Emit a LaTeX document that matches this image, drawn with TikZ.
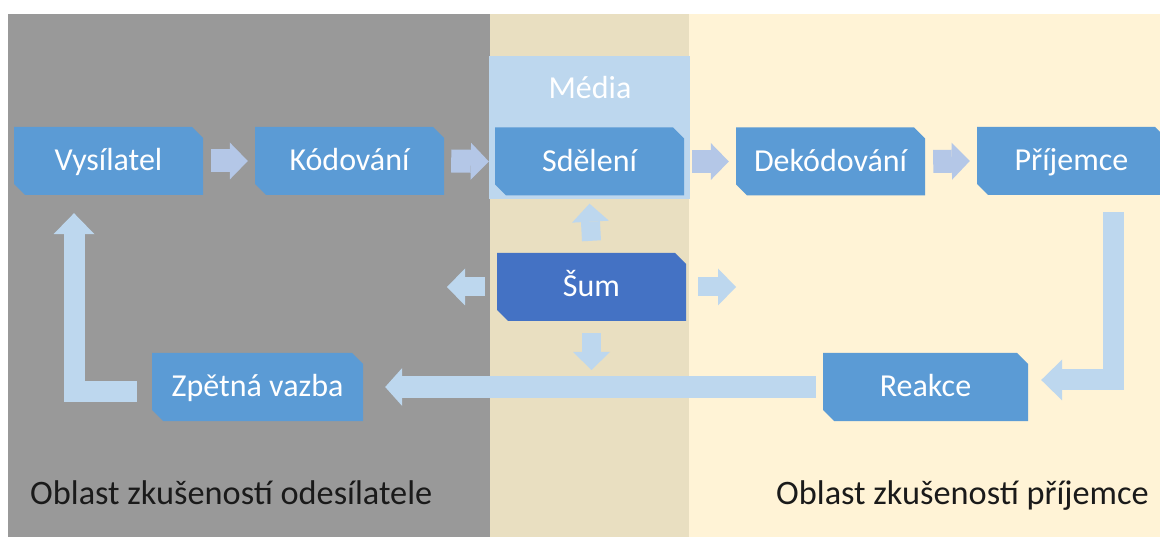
\documentclass[tikz,border=0pt]{standalone}
\usepackage{fontspec}
\setmainfont{Carlito}
\usetikzlibrary{arrows.meta}

\definecolor{greyzone}{HTML}{999999}
\definecolor{mediazone}{HTML}{E9DFC1}
\definecolor{creamzone}{HTML}{FFF3D6}
\definecolor{boxblue}{HTML}{5B9BD5}
\definecolor{noiseblue}{HTML}{4472C4}
\definecolor{paleblue}{HTML}{BDD7EE}
\definecolor{flowblue}{HTML}{B4C7E7}
\definecolor{captiontext}{HTML}{1A1A1A}

\tikzset{
  snipbox/.style={
    minimum width=189pt, minimum height=68pt, inner sep=0pt,
    text=white, font=\fontsize{32pt}{37pt}\selectfont,
    text height=20pt, text depth=0pt,
    path picture={
      \fill[#1]
        (path picture bounding box.north west)
        -- ([xshift=-11pt]path picture bounding box.north east)
        -- ([yshift=-11pt]path picture bounding box.north east)
        -- (path picture bounding box.south east)
        -- ([xshift=11pt]path picture bounding box.south west)
        -- ([yshift=11pt]path picture bounding box.south west)
        -- cycle;
    }
  },
  snipbox/.default=boxblue,
  flowarrow/.style={draw=flowblue, line width=23pt,
    -{Triangle[length=18pt,width=37pt,line width=0pt,fill=flowblue]}},
  noisearrow/.style={draw=paleblue, line width=19pt,
    -{Triangle[length=18pt,width=37pt,line width=0pt,fill=paleblue]}},
  backarrow/.style={draw=paleblue, line width=22pt,
    -{Triangle[length=17pt,width=38pt,line width=0pt,fill=paleblue]}},
  bentarrow/.style={draw=paleblue, line width=21pt, line join=miter,
    -{Triangle[length=21pt,width=41pt,line width=0pt,fill=paleblue]}},
  zonelabel/.style={text=captiontext, inner sep=0pt,
    font=\fontsize{34.3pt}{39pt}\selectfont}
}

\begin{document}
\begin{tikzpicture}[x=1pt,y=-1pt]
  \useasboundingbox (0,0) rectangle (1160,537);

  % experience zones
  \fill[white] (0,0) rectangle (1160,537);
  \fill[greyzone] (8,14) rectangle (490,537);
  \fill[mediazone] (490,14) rectangle (689,537);
  \fill[creamzone] (689,14) rectangle (1160,537);

  % media panel
  \node[fill=paleblue, minimum width=201pt, minimum height=143pt,
        inner sep=0pt, anchor=north west] (media) at (489,56) {};
  \node[text=white, inner sep=0pt, font=\fontsize{32pt}{37pt}\selectfont]
        (medialabel) at (590,88) {Média};

  % process boxes
  \node[snipbox] (vys) at (108.5,161) {Vysílatel};
  \node[snipbox] (kod) at (349.5,161) {Kódování};
  \node[snipbox] (sde) at (589.5,161.5) {Sdělení};
  \node[snipbox] (dek) at (830.5,161.5) {Dekódování};
  \node[snipbox] (prij) at (1071.5,161) {Příjemce};
  \node[snipbox=noiseblue] (sum) at (591.5,287) {Šum};
  \node[snipbox, minimum width=205pt] (reakce) at (925.5,387) {Reakce};
  \node[snipbox, minimum width=211pt] (zpetna) at (257.5,387) {Zpětná vazba};

  % main flow
  \draw[flowarrow] ([xshift=8pt]vys.east) -- ([xshift=-7pt]kod.west);
  \draw[flowarrow] ([xshift=7pt]kod.east) -- ([xshift=-6pt]sde.west);
  \draw[flowarrow] ([xshift=8pt]sde.east) -- ([xshift=-7pt]dek.west);
  \draw[flowarrow] ([xshift=8pt]dek.east) -- ([xshift=-7pt]prij.west);

  % noise spreading out
  \coordinate (noiseleft) at (447,287);
  \coordinate (noiseright) at (736,287);
  \coordinate (noisedown) at (591.5,370);
  \draw[noisearrow] ([yshift=12pt]sum.north) -- ([yshift=-8pt]sde.south);
  \draw[noisearrow] ([xshift=12pt]sum.east) -- (noiseright);
  \draw[noisearrow] ([xshift=-12pt]sum.west) -- (noiseleft);
  \draw[noisearrow] ([yshift=-12pt]sum.south) -- (noisedown);

  % feedback loop
  \draw[bentarrow] ([xshift=42pt,yshift=-17pt]prij.south)
      |- ([xshift=13pt,yshift=7pt]reakce.east);
  \draw[backarrow] ([xshift=-7pt]reakce.west) -- ([xshift=22pt]zpetna.east);
  \draw[bentarrow] ([xshift=-15pt,yshift=-4.5pt]zpetna.west)
      -| ([xshift=-34.5pt,yshift=-18pt]vys.south);

  % zone captions
  \node[zonelabel, anchor=base west] (senderzone) at (30,504)
      {Oblast zkušeností odesílatele};
  \node[zonelabel, anchor=base east] (receiverzone) at (1149,504)
      {Oblast zkušeností příjemce};
\end{tikzpicture}
\end{document}
